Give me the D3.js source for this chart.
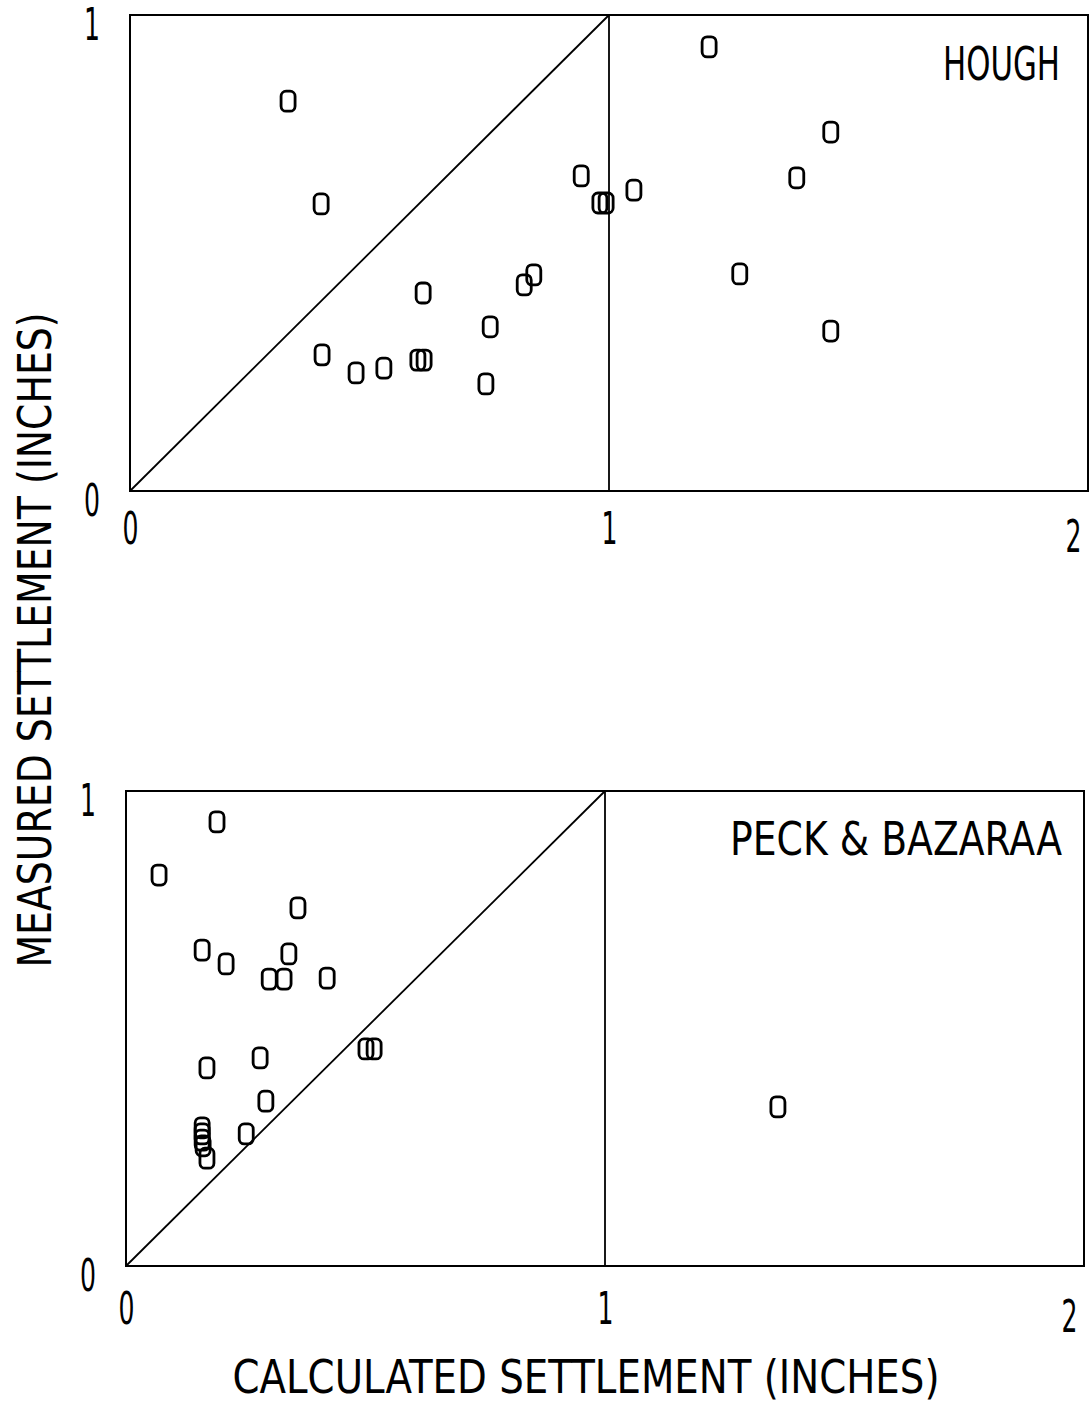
<!DOCTYPE html>
<html>
<head>
<meta charset="utf-8">
<script src="https://cdn.jsdelivr.net/npm/d3@7"></script>
<style>
  body { margin: 0; background: #fff; }
  text { font-family: "DejaVu Sans", sans-serif; font-weight: 400; fill: #000; }
</style>
</head>
<body>
<div id="chart"></div>
<script>
// valores (polegadas)
const xTicks = [0, 1, 2];
const yTicks = [0, 1];

const houghCalc = [1.209, 0.330, 0.399, 1.463, 1.392, 0.942, 0.981, 0.994, 1.052, 1.273, 1.463,
  0.843, 0.823, 0.612, 0.752, 0.401, 0.472, 0.530, 0.601, 0.614, 0.743];
const houghMeas = [0.933, 0.819, 0.603, 0.754, 0.658, 0.662, 0.605, 0.605, 0.632, 0.456, 0.336,
  0.454, 0.433, 0.416, 0.345, 0.286, 0.248, 0.258, 0.275, 0.275, 0.225];

const peckCalc = [0.190, 0.069, 0.359, 0.159, 0.209, 0.340, 0.299, 0.330, 0.420, 0.501, 0.518,
  0.169, 0.280, 0.292, 0.251, 0.159, 0.159, 0.159, 0.161, 0.169, 1.361];
const peckMeas = [0.935, 0.823, 0.754, 0.665, 0.636, 0.657, 0.604, 0.604, 0.606, 0.457, 0.457,
  0.417, 0.438, 0.347, 0.278, 0.291, 0.278, 0.265, 0.253, 0.227, 0.335];

const width = 1090;
const height = 1405;

const svg = d3.select("#chart")
  .append("svg")
  .attr("width", width)
  .attr("height", height);

svg.append("rect").attr("width", width).attr("height", height).attr("fill", "#fff");

function drawPanel(opts) {
  const { calc, meas, label, left, right, top, bottom, labelX, labelY, labelLen, pad } = opts;

  const x = d3.scaleLinear().domain([0, 2]).range([left, right]);
  const y = d3.scaleLinear().domain([0, 1]).range([bottom, top]);

  const g = svg.append("g");

  // moldura
  g.append("rect")
    .attr("x", x(0))
    .attr("y", y(1))
    .attr("width", x(2) - x(0))
    .attr("height", y(0) - y(1))
    .attr("fill", "none")
    .attr("stroke", "#000")
    .attr("stroke-width", 2);

  // linha vertical em 1
  g.append("line")
    .attr("x1", x(1)).attr("x2", x(1))
    .attr("y1", y(0)).attr("y2", y(1))
    .attr("stroke", "#000")
    .attr("stroke-width", 1.8);

  // linha 1:1
  const line = d3.line().x((d) => x(d)).y((d) => y(d));
  g.append("path")
    .datum([0, 1])
    .attr("d", line)
    .attr("fill", "none")
    .attr("stroke", "#000")
    .attr("stroke-width", 1.8);

  // eixo X
  const ax = g.append("g")
    .attr("transform", `translate(0,${y(0)})`)
    .call(d3.axisBottom(x).tickValues(xTicks).tickSize(0).tickPadding(pad).tickFormat(d3.format("d")));
  ax.select(".domain").remove();
  ax.selectAll("text")
    .attr("font-size", 44)
    .attr("font-family", "DejaVu Sans, sans-serif")
    .attr("fill", "#000")
    .attr("textLength", 16)
    .attr("lengthAdjust", "spacingAndGlyphs");
  ax.selectAll(".tick")
    .filter((d) => d === 2)
    .select("text")
    .attr("x", -15)
    .attr("y", pad + 8);

  // eixo Y
  const ay = g.append("g")
    .attr("transform", `translate(${x(0)},0)`)
    .call(d3.axisLeft(y).tickValues(yTicks).tickSize(0).tickPadding(30).tickFormat(d3.format("d")));
  ay.select(".domain").remove();
  ay.selectAll("text")
    .attr("font-size", 44)
    .attr("font-family", "DejaVu Sans, sans-serif")
    .attr("fill", "#000")
    .attr("dy", "0.55em")
    .attr("textLength", 16)
    .attr("lengthAdjust", "spacingAndGlyphs");

  // pontos (caractere "0" do plotter)
  const pts = calc.map((c, i) => ({ c: c, m: meas[i] }));
  g.selectAll(".pt")
    .data(pts)
    .enter()
    .append("rect")
    .attr("class", "pt")
    .attr("x", (d) => x(d.c) - 7)
    .attr("y", (d) => y(d.m) - 10)
    .attr("width", 14)
    .attr("height", 20)
    .attr("rx", 5)
    .attr("fill", "none")
    .attr("stroke", "#000")
    .attr("stroke-width", 2.8);

  // nome do método
  g.append("text")
    .attr("x", labelX)
    .attr("y", labelY)
    .attr("text-anchor", "end")
    .attr("font-size", 46)
    .attr("textLength", labelLen)
    .attr("lengthAdjust", "spacingAndGlyphs")
    .text(label);
}

drawPanel({
  calc: houghCalc, meas: houghMeas, label: "HOUGH",
  left: 130, right: 1088, top: 15, bottom: 491,
  labelX: 1060, labelY: 80, labelLen: 117, pad: 22
});

drawPanel({
  calc: peckCalc, meas: peckMeas, label: "PECK & BAZARAA",
  left: 126, right: 1084, top: 791, bottom: 1266,
  labelX: 1062, labelY: 855, labelLen: 332, pad: 27
});

// títulos dos eixos
svg.append("text")
  .attr("x", 586)
  .attr("y", 1393)
  .attr("text-anchor", "middle")
  .attr("font-size", 46)
  .attr("textLength", 707)
  .attr("lengthAdjust", "spacingAndGlyphs")
  .text("CALCULATED SETTLEMENT (INCHES)");

svg.append("text")
  .attr("transform", "translate(51,640) rotate(-90)")
  .attr("text-anchor", "middle")
  .attr("font-size", 46)
  .attr("textLength", 655)
  .attr("lengthAdjust", "spacingAndGlyphs")
  .text("MEASURED SETTLEMENT (INCHES)");
</script>
</body>
</html>
